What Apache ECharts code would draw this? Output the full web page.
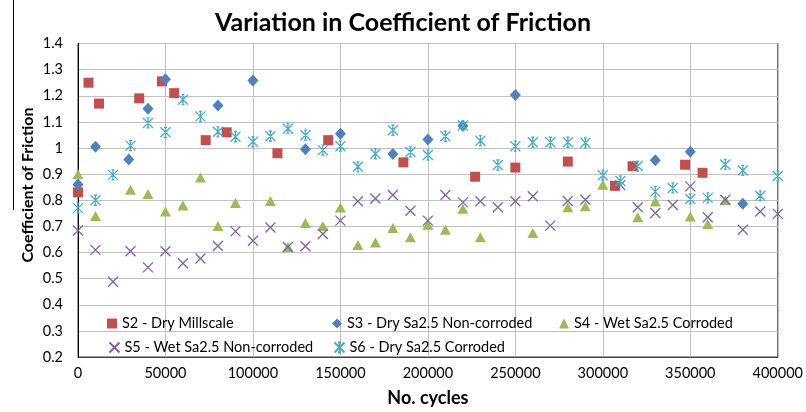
<!DOCTYPE html>
<html>
<head>
<meta charset="utf-8">
<title>Variation in Coefficient of Friction</title>
<script src="https://cdn.jsdelivr.net/npm/echarts@6/dist/echarts.min.js"></script>
<style>
  html, body { margin: 0; padding: 0; background: #fff; }
  #chart { width: 806px; height: 412px; }
</style>
</head>
<body>
<div id="chart"></div>
<script>
// [cycles, coefficient of friction]
var s2Data = [[0, 0.83], [6000, 1.25], [12000, 1.17], [35000, 1.19], [48000, 1.255], [55000, 1.21],
  [73000, 1.03], [85000, 1.06], [114000, 0.98], [143000, 1.03], [186000, 0.945], [227000, 0.89],
  [250000, 0.925], [280000, 0.948], [307000, 0.855], [317000, 0.93], [347000, 0.936], [357000, 0.905]]

var s3Data = [[0, 0.86], [10000, 1.005], [29000, 0.956], [40000, 1.15], [50000, 1.263], [80000, 1.163],
  [100000, 1.258], [130000, 0.995], [150000, 1.055], [180000, 0.977], [200000, 1.033], [220000, 1.085],
  [250000, 1.203], [330000, 0.953], [350000, 0.986], [380000, 0.787]]

var s4Data = [[0, 0.9], [10000, 0.74], [30000, 0.84], [40000, 0.824], [50000, 0.757], [60000, 0.78],
  [70000, 0.887], [80000, 0.701], [90000, 0.789], [110000, 0.797], [120000, 0.621], [130000, 0.713],
  [140000, 0.701], [150000, 0.772], [160000, 0.629], [170000, 0.638], [180000, 0.694], [190000, 0.658],
  [200000, 0.706], [210000, 0.687], [220000, 0.767], [230000, 0.658], [260000, 0.675], [280000, 0.773],
  [290000, 0.777], [300000, 0.859], [320000, 0.735], [330000, 0.795], [350000, 0.738], [360000, 0.709],
  [370000, 0.8]]

var s5Data = [[0, 0.684], [10000, 0.61], [20000, 0.488], [30000, 0.605], [40000, 0.543], [50000, 0.605],
  [60000, 0.559], [70000, 0.577], [80000, 0.625], [90000, 0.681], [100000, 0.645], [110000, 0.696],
  [120000, 0.621], [130000, 0.624], [140000, 0.671], [150000, 0.722], [160000, 0.796], [170000, 0.807],
  [180000, 0.82], [190000, 0.76], [200000, 0.722], [210000, 0.82], [220000, 0.792], [230000, 0.796],
  [240000, 0.773], [250000, 0.796], [260000, 0.815], [270000, 0.703], [280000, 0.797], [290000, 0.802],
  [310000, 0.858], [320000, 0.773], [330000, 0.751], [340000, 0.782], [350000, 0.853], [360000, 0.735],
  [370000, 0.802], [380000, 0.687], [390000, 0.757], [400000, 0.748]]

var s6Data = [[0, 0.77], [10000, 0.8], [20000, 0.897], [30000, 1.009], [40000, 1.096], [50000, 1.06],
  [60000, 1.185], [70000, 1.121], [80000, 1.062], [90000, 1.043], [100000, 1.024], [110000, 1.045],
  [120000, 1.074], [130000, 1.049], [140000, 0.992], [150000, 1.007], [160000, 0.928], [170000, 0.978],
  [180000, 1.068], [190000, 0.985], [200000, 0.973], [210000, 1.045], [220000, 1.086], [230000, 1.028],
  [240000, 0.935], [250000, 1.007], [260000, 1.022], [270000, 1.022], [280000, 1.022], [290000, 1.02],
  [300000, 0.896], [310000, 0.874], [320000, 0.931], [330000, 0.833], [340000, 0.847], [350000, 0.805],
  [360000, 0.809], [370000, 0.937], [380000, 0.914], [390000, 0.817], [400000, 0.893]]

var seriesNames = ['S2 - Dry Millscale', 'S3 - Dry Sa2.5 Non-corroded', 'S4 - Wet Sa2.5 Corroded',
  'S5 - Wet Sa2.5 Non-corroded', 'S6 - Dry Sa2.5 Corroded']

var FONT = 'Lato, "Open Sans", sans-serif'
var crossPath = 'path://M0,0L10,10M10,0L0,10'
var starPath = 'path://M0,0L10,10M10,0L0,10M5,0L5,10M3.5,0L6.5,0M3.5,10L6.5,10'

// one legend per entry so they line up like the original two-row box
function legendAt(name, left, top) {
  return {
    data: [name],
    left: left,
    top: top,
    padding: 0,
    itemWidth: 10,
    itemHeight: 10,
    selectedMode: false,
    textStyle: { fontFamily: FONT, fontSize: 14.5, color: '#000' }
  }
}

var chart = echarts.init(document.getElementById('chart'))

chart.setOption({
  animation: false,
  backgroundColor: '#fff',
  title: {
    text: 'Variation in Coefficient of Friction',
    left: 'center',
    top: 5,
    textStyle: { fontFamily: FONT, fontSize: 25, fontWeight: 'bold', color: '#000' }
  },
  graphic: [
    {
      type: 'text',
      rotation: Math.PI / 2,
      x: 28,
      y: 185,
      style: {
        text: 'Coefficient of Friction',
        fontFamily: FONT, fontSize: 16, fontWeight: 'bold', fill: '#000',
        align: 'center', verticalAlign: 'middle'
      }
    },
    {
      type: 'line',
      shape: { x1: 13.5, y1: 0, x2: 13.5, y2: 210 },
      style: { stroke: '#000', lineWidth: 1 }
    }
  ],
  legend: [
    legendAt(seriesNames[0], 107, 316),
    legendAt(seriesNames[1], 332, 316),
    legendAt(seriesNames[2], 559, 316),
    legendAt(seriesNames[3], 107, 340),
    legendAt(seriesNames[4], 332, 340)
  ],
  grid: {
    left: 78,
    right: 27,
    top: 43.5,
    bottom: 52,
    show: true,
    borderColor: '#404040',
    borderWidth: 1
  },
  xAxis: {
    type: 'value',
    min: 0,
    max: 400000,
    interval: 50000,
    name: 'No. cycles',
    nameLocation: 'middle',
    nameGap: 32,
    nameTextStyle: { fontFamily: FONT, fontSize: 18, fontWeight: 'bold', color: '#000' },
    axisLine: { show: true, lineStyle: { color: '#404040' } },
    axisTick: { show: false },
    axisLabel: {
      fontFamily: FONT, fontSize: 14.5, color: '#000', margin: 9,
      formatter: function (v) { return String(v) }
    },
    splitLine: { show: true, lineStyle: { color: '#c0c0c0' } }
  },
  yAxis: {
    type: 'value',
    min: 0.2,
    max: 1.4,
    interval: 0.1,
    axisLine: { show: true, lineStyle: { color: '#000' } },
    axisTick: { show: false },
    axisLabel: {
      fontFamily: FONT, fontSize: 14.5, color: '#000', margin: 15,
      formatter: function (v) { return String(+v.toFixed(1)) }
    },
    splitLine: { show: true, lineStyle: { color: '#c0c0c0' } }
  },
  series: [
    {
      name: seriesNames[0], type: 'scatter', data: s2Data,
      symbol: 'rect', symbolSize: 10,
      itemStyle: { color: '#c0504d', opacity: 1 }
    },
    {
      name: seriesNames[1], type: 'scatter', data: s3Data,
      symbol: 'diamond', symbolSize: [11, 12],
      itemStyle: { color: '#4f81bd', opacity: 1 }
    },
    {
      name: seriesNames[2], type: 'scatter', data: s4Data,
      symbol: 'triangle', symbolSize: [11, 10],
      itemStyle: { color: '#9bbb59', opacity: 1 }
    },
    {
      name: seriesNames[3], type: 'scatter', data: s5Data,
      symbol: crossPath, symbolSize: 10,
      itemStyle: { color: 'none', borderColor: '#8064a2', borderWidth: 1.3, opacity: 1 }
    },
    {
      name: seriesNames[4], type: 'scatter', data: s6Data,
      symbol: starPath, symbolSize: 10,
      itemStyle: { color: 'none', borderColor: '#4bacc6', borderWidth: 1.3, opacity: 1 }
    }
  ]
})
</script>
</body>
</html>
